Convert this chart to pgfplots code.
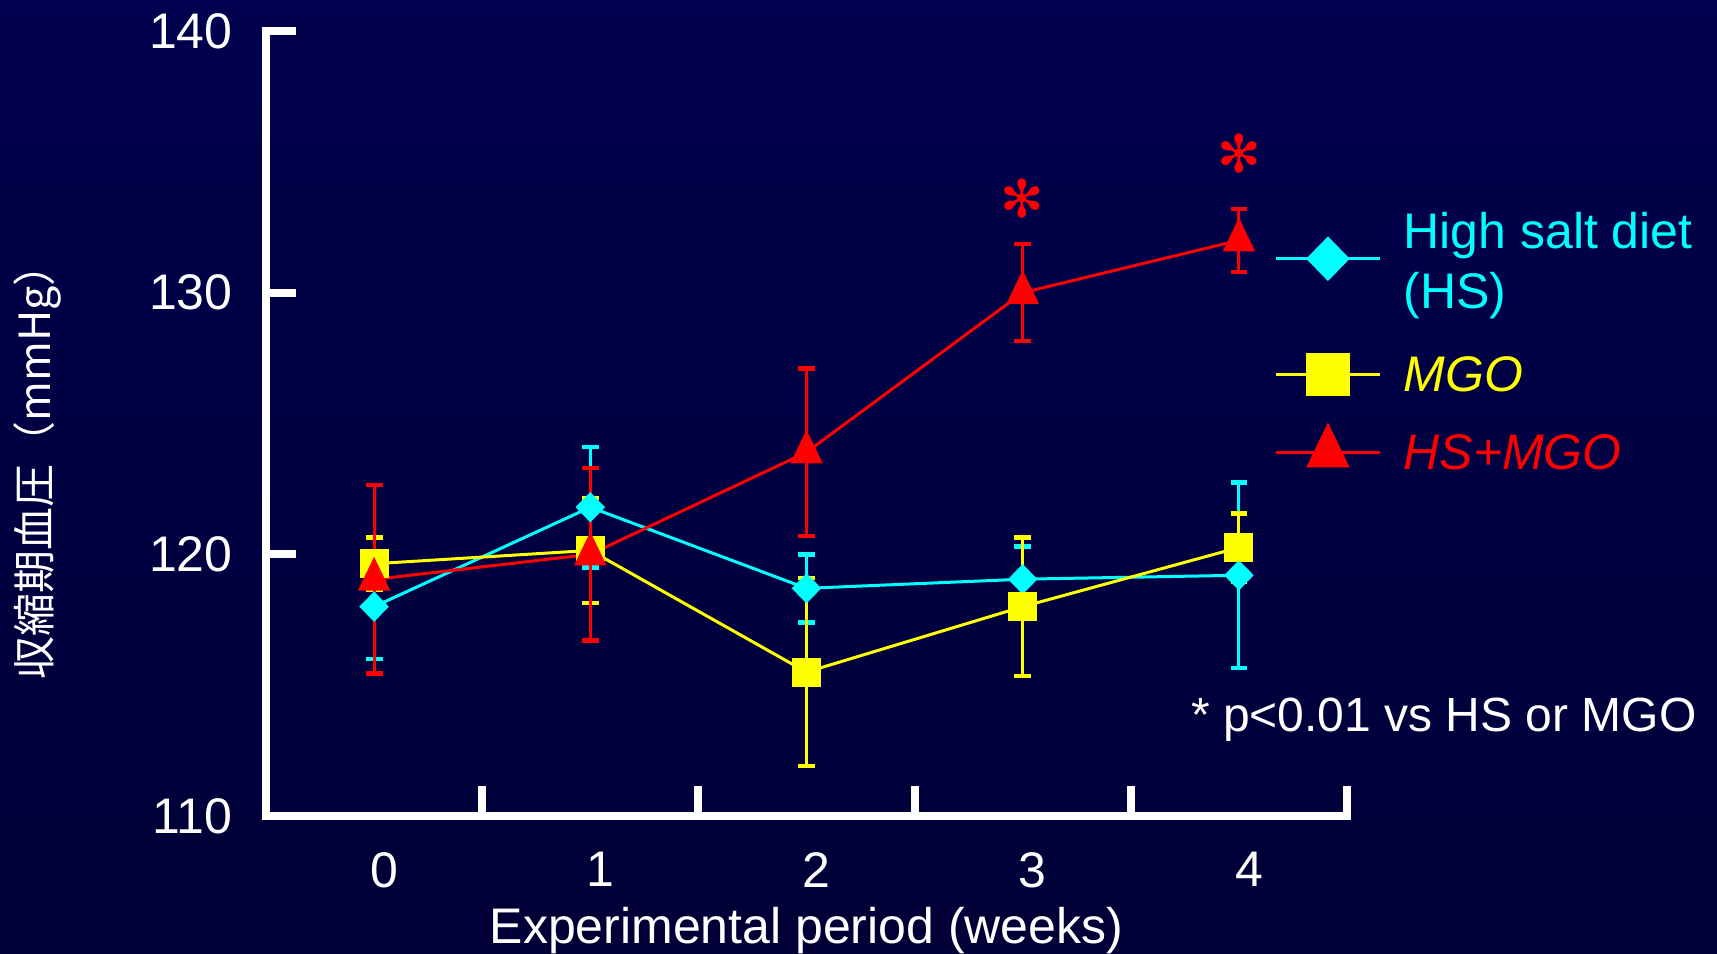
\documentclass[border=0pt]{standalone}
\usepackage{fontspec}
\setmainfont{Liberation Sans}
\newfontfamily\cjk{Noto Sans CJK JP}
\newfontfamily\djv{DejaVu Sans}
\usepackage{pgfplots}
\pgfplotsset{compat=1.18}
\usepackage{pgfplotstable}
\definecolor{bgtop}{HTML}{00004E}
\definecolor{bgmid}{HTML}{000062}
\definecolor{bgbot}{HTML}{000036}
\definecolor{hscol}{RGB}{0,255,255}
\definecolor{mgocol}{RGB}{255,255,0}
\definecolor{hsmcol}{RGB}{255,0,0}

\pgfplotstableread{
x y e
0 118.0 2.0
1 121.8 2.3
2 118.7 1.3
3 119.05 1.25
4 119.2 3.55
}\hsdata
\pgfplotstableread{
x y e
0 119.64 1.0
1 120.15 2.0
2 115.5 3.6
3 118.0 2.65
4 120.26 1.3
}\mgodata
\pgfplotstableread{
x y e
0 119.04 3.6
1 120.0 3.3
2 123.9 3.2
3 130.0 1.85
4 132.0 1.2
}\hsmgodata

\begin{document}
\begin{tikzpicture}
\useasboundingbox (0,0) rectangle (858.5pt,476.5pt);
\shade[top color=bgtop, middle color=bgmid, bottom color=bgbot] (0,0) rectangle (858.5pt,476.5pt);
\begin{axis}[
  at={(133pt,68.5pt)}, anchor=south west,
  scale only axis, width=540.5pt, height=392.5pt,
  xmin=-0.5, xmax=4.5, ymin=110, ymax=140,
  clip=false,
  axis x line=bottom, axis y line=left,
  axis line style={white, line width=4pt, -, line cap=rect},
  tick align=inside,
  major tick length=15pt,
  tick style={white, line width=4pt},
  xtick={0.5,1.5,2.5,3.5,4.5}, xticklabels={},
  extra x ticks={0,1,2,3,4}, extra x tick labels={0,1,2,3,4},
  extra x tick style={major tick length=0pt},
  ytick={110,120,130,140},
  /pgf/number format/assume math mode=true,
  ticklabel style={white, font=\fontsize{25}{28}\selectfont},
  yticklabel style={inner sep=0pt, xshift=-16.5pt},
  xticklabel style={inner sep=0pt, yshift=-18pt, xshift=5pt},
  xlabel={Experimental period (weeks)},
  xlabel style={white, font=\fontsize{25}{28}\selectfont, inner sep=0pt, anchor=base, at={(axis description cs:0.5,-0.163)}},
  ylabel={{\cjk 収縮期血圧（mmHg）}},
  ylabel style={white, font=\fontsize{21.5}{24}\selectfont, inner sep=0pt, anchor=center, at={(axis description cs:-0.2118,0.452)}},
  legend cell align=left,
  legend style={at={(0.9328,0.6134)}, anchor=west, draw=none, fill=none,
    inner sep=0pt, outer sep=0pt, row sep=15pt, column sep=9pt,
    font=\fontsize{25}{30}\selectfont, nodes={text depth={}}},
  error bars/error mark=-,
  error bars/error bar style={line width=1.5pt},
  error bars/error mark options={rotate=90, line width=2.2pt, mark size=4.2pt},
]
\addplot[hscol, line width=1.5pt, mark=diamond*, mark size=6.5pt,
  mark options={xscale=1.3, solid, fill=hscol},
  legend image code/.code={\draw[mark repeat=2, mark phase=2, mark size=10pt, line width=1.6pt] plot coordinates {(0pt,0pt) (26pt,0pt) (52pt,0pt)};},
  error bars/.cd, y dir=both, y explicit]
  table[x=x, y=y, y error=e] {\hsdata};
\addlegendentry{\raisebox{-3.8pt}[\height][\depth]{\begin{tabular}{@{}l@{}}\textcolor{hscol}{High salt diet}\\\textcolor{hscol}{(HS)}\end{tabular}}}
\addplot[mgocol, line width=1.5pt, mark=square*, mark size=6.5pt,
  mark options={solid, fill=mgocol},
  legend image code/.code={\draw[mark repeat=2, mark phase=2, mark size=10pt, line width=1.6pt] plot coordinates {(0pt,0pt) (26pt,0pt) (52pt,0pt)};},
  error bars/.cd, y dir=both, y explicit]
  table[x=x, y=y, y error=e] {\mgodata};
\addlegendentry{\textcolor{mgocol}{\itshape MGO}}
\addplot[hsmcol, line width=1.5pt, mark=triangle*, mark size=8pt,
  mark options={yscale=1.2, solid, fill=hsmcol},
  legend image code/.code={\draw[mark repeat=2, mark phase=2, mark size=11pt, line width=1.6pt] plot coordinates {(0pt,0pt) (26pt,0pt) (52pt,0pt)};},
  error bars/.cd, y dir=both, y explicit]
  table[x=x, y=y, y error=e] {\hsmgodata};
\addlegendentry{\textcolor{hsmcol}{\itshape HS+MGO}}
\node[hsmcol, font=\djv\fontsize{26}{28}\selectfont, inner sep=0pt] at (axis cs:3,133.6) {✻};
\node[hsmcol, font=\djv\fontsize{26}{28}\selectfont, inner sep=0pt] at (axis cs:4,135.3) {✻};
\end{axis}
\node[white, anchor=base east, inner sep=0pt, font=\fontsize{24}{28}\selectfont] at (848.5pt,110.75pt) {* p<0.01 vs HS or MGO};
\end{tikzpicture}
\end{document}
